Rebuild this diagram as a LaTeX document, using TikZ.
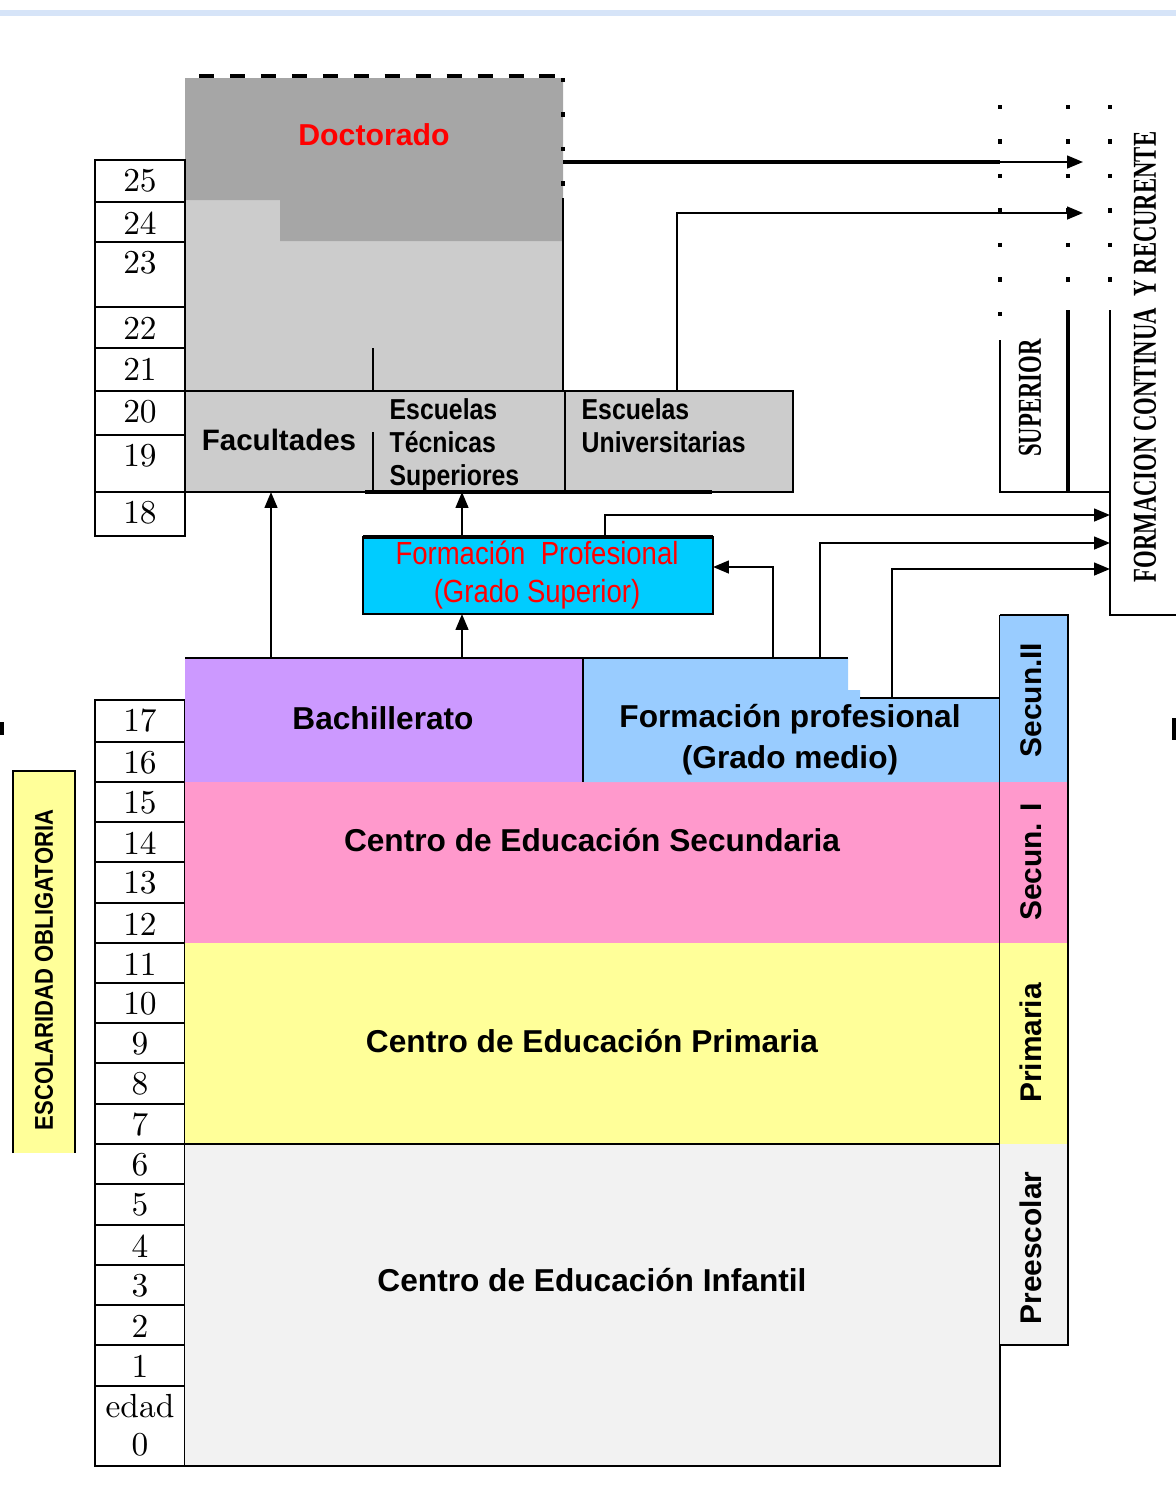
\documentclass[tikz,border=0pt]{standalone}
\usepackage{fontspec}
\usetikzlibrary{arrows.meta}
\newfontfamily\sans{Liberation Sans}
\newfontfamily\sansc[FakeStretch=0.86]{Liberation Sans}
\newfontfamily\serifc[FakeStretch=0.68]{Liberation Serif}

\definecolor{doctgris}{HTML}{A6A6A6}
\definecolor{univgris}{HTML}{CCCCCC}
\definecolor{fpcian}{HTML}{00CCFF}
\definecolor{bachlila}{HTML}{CC99FF}
\definecolor{fpazul}{HTML}{99CCFF}
\definecolor{secrosa}{HTML}{FF99CC}
\definecolor{primamar}{HTML}{FFFF99}
\definecolor{infgris}{HTML}{F2F2F2}
\definecolor{bandaazul}{HTML}{D6E4F8}

\tikzset{
  agebox/.style={draw=black, line width=0.6pt, fill=white},
  agetext/.style={inner sep=0pt, font=\fontsize{9.5}{11}\selectfont},
  rotulo/.style={inner sep=0pt, align=center, font=\sans\bfseries\fontsize{9}{11.6}\selectfont},
  escuela/.style={inner sep=0pt, align=left, anchor=north west, font=\sansc\bfseries\fontsize{8.2}{9.4}\selectfont},
  lateral/.style={inner sep=0pt, rotate=90, font=\sans\bfseries\fontsize{8.5}{10}\selectfont},
  linea/.style={line width=0.6pt},
  puntos/.style={line width=0.9pt, dash pattern=on 1.2pt off 8.6pt},
  flecha/.style={line width=0.6pt, -{Triangle[length=4.5pt,width=3.6pt]}}
}

\begin{document}
\begin{tikzpicture}[x=0.01cm, y=-0.01cm]

  % Bounding box of the scheme
  \useasboundingbox (0,0) rectangle (1176,1490);
  \fill[bandaazul] (0,10) rectangle (1176,16);

  %%%%%%%%%%%%%%%%%%%%%%%%%%%%%%%%% Universidad %%%%%%%%%%%%%%%%%%%%%%%%%%%%%%%%%%%%
  \fill[univgris] (185,200) rectangle (563,391);
  \fill[doctgris] (185,78) -- (563,78) -- (563,241) -- (280,241) -- (280,200) -- (185,200) -- cycle;
  \draw[line width=1.3pt, dash pattern=on 4.3pt off 4.5pt, dash phase=-4pt] (185,76) -- (560,76);
  \draw[puntos] (563,78) -- (563,198);
  \draw[linea] (563,198) -- (563,391);
  \draw[linea] (373,348) -- (373,391);

  \fill[univgris] (185,391) rectangle (793,492);
  \draw[linea] (185,391) -- (793,391) -- (793,492) -- (185,492);
  \draw[linea] (565,391) -- (565,492);
  \draw[linea] (373,432) -- (373,492);
  \draw[line width=1.1pt] (365,492) -- (712,492);

  %%%%%%%%%%%%%%%%%%%%%%%%%%%%%%%%% Tabla de edades %%%%%%%%%%%%%%%%%%%%%%%%%%%%%%%%%%%%
  \foreach \edad/\arriba/\abajo in {25/160/202, 24/202/242, 23/242/307, 22/307/348,
      21/348/391, 20/391/435, 19/435/492, 18/492/536, 17/700/742, 16/742/782,
      15/782/822, 14/822/862, 13/862/903, 12/903/943, 11/943/983, 10/983/1023,
      9/1023/1063, 8/1063/1104, 7/1104/1144, 6/1144/1184, 5/1184/1225,
      4/1225/1265, 3/1265/1305, 2/1305/1345, 1/1345/1386}
  {
    \draw[agebox] (95,\arriba) rectangle (185,\abajo);
    \node[agetext] (e\edad) at (140,\arriba+21) {\edad};
  }
  \draw[agebox] (95,1386) rectangle (185,1466);
  \node[agetext] (edad) at (140,1406) {edad};
  \node[agetext] (e0) at (140,1445) {0};

  %%%%%%%%%%%%%%%%%%%%%%%%%%%%%%%%% Bloques inferiores %%%%%%%%%%%%%%%%%%%%%%%%%%%%%%%%%%%%
  \fill[infgris] (185,1144) rectangle (1000,1466);
  \fill[primamar] (185,943) rectangle (1000,1144);
  \fill[secrosa] (185,782) rectangle (1000,943);
  \fill[bachlila] (185,658) rectangle (583,782);
  \fill[fpazul] (583,658) -- (848,658) -- (848,690) -- (860,690) -- (860,698)
    -- (1000,698) -- (1000,782) -- (583,782) -- cycle;
  \draw[linea] (185,658) -- (848,658);
  \draw[linea] (860,698) -- (1000,698);
  \draw[linea] (583,658) -- (583,782);
  \draw[linea] (185,1144) -- (1068,1144);
  \draw[linea] (95,1466) -- (1000,1466) -- (1000,615);

  % Columna lateral
  \fill[fpazul] (1000,615) rectangle (1068,782);
  \fill[secrosa] (1000,782) rectangle (1068,943);
  \fill[primamar] (1000,943) rectangle (1068,1144);
  \fill[infgris] (1000,1144) rectangle (1068,1345);
  \draw[linea] (1000,615) -- (1068,615) -- (1068,1345) -- (1000,1345);

  % Escolaridad obligatoria
  \fill[primamar] (13,771) rectangle (75,1153);
  \draw[linea] (13,1153) -- (13,771) -- (75,771) -- (75,1153);
  \fill (0,722) rectangle (4,735);
  \fill (1172,718) rectangle (1176,740);

  %%%%%%%%%%%%%%%%%%%%%%%%%%%%%%%%% FP grado superior %%%%%%%%%%%%%%%%%%%%%%%%%%%%%%%%%%%%
  \fill[fpcian] (363,537) rectangle (713,614);
  \draw[linea] (363,537) rectangle (713,614);
  \draw[line width=1.2pt] (363,537) -- (713,537);

  %%%%%%%%%%%%%%%%%%%%%%%%%%%%%%%%% Formacion continua %%%%%%%%%%%%%%%%%%%%%%%%%%%%%%%%%%%%
  \draw[puntos] (1000,105) -- (1000,340);
  \draw[puntos] (1068,105) -- (1068,310);
  \draw[puntos] (1110,105) -- (1110,310);
  \draw[linea] (1000,340) -- (1000,492) -- (1110,492);
  \draw[line width=0.9pt] (1068,310) -- (1068,492);
  \draw[linea] (1110,310) -- (1110,615) -- (1176,615);

  %%%%%%%%%%%%%%%%%%%%%%%%%%%%%%%%% Conexiones %%%%%%%%%%%%%%%%%%%%%%%%%%%%%%%%%%%%
  \coordinate (doctR) at (563,162);
  \coordinate (doctC) at (1000,162);
  \coordinate (doctF) at (1083,162);
  \coordinate (euT) at (677,391);
  \coordinate (euF) at (1083,213);
  \coordinate (bachA) at (271,658);
  \coordinate (facuB) at (271,492);
  \coordinate (bachB) at (462,658);
  \coordinate (fpsB) at (462,614);
  \coordinate (fpsT) at (462,537);
  \coordinate (etsB) at (462,492);
  \coordinate (fpsR) at (713,567);
  \coordinate (fpmA) at (773,658);
  \coordinate (fpsU) at (605,537);
  \coordinate (fcA) at (1110,515);
  \coordinate (fpmB) at (820,658);
  \coordinate (fcB) at (1110,543);
  \coordinate (fpmC) at (892,698);
  \coordinate (fcC) at (1110,569);

  \draw[line width=1.3pt] (doctR) -- (doctC);
  \draw[flecha] (doctC) -- (doctF);
  \draw[flecha] (euT) |- (euF);
  \draw[flecha] (bachA) -- (facuB);
  \draw[flecha] (bachB) -- (fpsB);
  \draw[flecha] (fpsT) -- (etsB);
  \draw[flecha] (fpmA) |- (fpsR);
  \draw[flecha] (fpsU) |- (fcA);
  \draw[flecha] (fpmB) |- (fcB);
  \draw[flecha] (fpmC) |- (fcC);

  %%%%%%%%%%%%%%%%%%%%%%%%%%%%%%%%% Textos %%%%%%%%%%%%%%%%%%%%%%%%%%%%%%%%%%%%
  \node[rotulo, text=red, font=\sans\bfseries\fontsize{8.6}{10}\selectfont] (doct) at (374,135) {Doctorado};
  \node[rotulo, font=\sans\bfseries\fontsize{8.4}{10}\selectfont] (facu) at (279,440) {Facultades};
  \node[escuela] (ets) at (389,398) {Escuelas\\Técnicas\\Superiores};
  \node[escuela] (eu) at (581,398) {Escuelas\\Universitarias};
  \node[inner sep=0pt, align=center, text=red, font=\sansc\fontsize{9.1}{10.8}\selectfont]
    (fpsup) at (537,575) {Formación\ \ Profesional\\(Grado Superior)};
  \node[rotulo] (bach) at (383,718) {Bachillerato};
  \node[rotulo] (fpmed) at (790,740) {Formación profesional\\(Grado medio)};
  \node[rotulo] (cesec) at (592,840) {Centro de Educación Secundaria};
  \node[rotulo] (ceprim) at (592,1041) {Centro de Educación Primaria};
  \node[rotulo] (ceinf) at (592,1280) {Centro de Educación Infantil};

  \node[lateral] (secII) at (1031,700) {Secun.II};
  \node[lateral] (secI) at (1031,862) {Secun. I};
  \node[lateral] (prim) at (1031,1043) {Primaria};
  \node[lateral] (presc) at (1031,1248) {Preescolar};
  \node[inner sep=0pt, rotate=90, font=\serifc\bfseries\fontsize{9.5}{10}\selectfont]
    (sup) at (1030,398) {SUPERIOR};
  \node[inner sep=0pt, rotate=90, font=\serifc\bfseries\fontsize{9.5}{10}\selectfont]
    (fcr) at (1145,357) {FORMACION CONTINUA\ \ Y RECURENTE};
  \node[inner sep=0pt, rotate=90, font=\sansc\bfseries\fontsize{7.3}{9}\selectfont]
    (oblig) at (44,970) {ESCOLARIDAD OBLIGATORIA};

\end{tikzpicture}
\end{document}
